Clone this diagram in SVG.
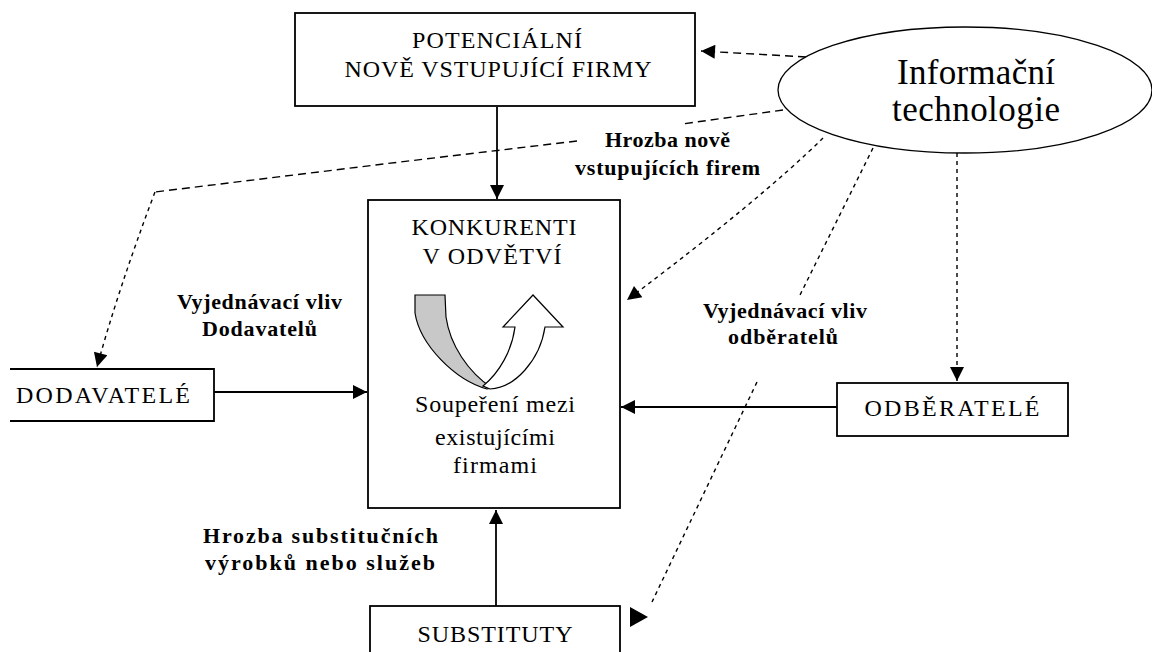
<svg xmlns="http://www.w3.org/2000/svg" width="1152" height="652" viewBox="0 0 1152 652">
<style>
.box{fill:#fff;stroke:#000;stroke-width:1.8}
.nt{font-family:"Liberation Serif","Times New Roman",serif;font-size:24px;fill:#000;text-anchor:middle}
.lb{font-family:"Liberation Serif","Times New Roman",serif;font-size:22px;font-weight:bold;fill:#000}
.it{font-family:"Liberation Serif","Times New Roman",serif;font-size:35px;fill:#000;text-anchor:middle}
.solid{fill:none;stroke:#000;stroke-width:1.8}
.dash{fill:none;stroke:#000;stroke-width:1.4;stroke-dasharray:8 5}
.dash2{fill:none;stroke:#000;stroke-width:1.4;stroke-dasharray:4 4}
</style>
<defs>
<marker id="ah" viewBox="0 0 10 10" refX="10" refY="5" markerUnits="userSpaceOnUse" markerWidth="17" markerHeight="14" orient="auto">
<path d="M0,0 L10,5 L0,10 z" fill="#000"/>
</marker>
</defs>
<rect width="1152" height="652" fill="#fff"/>

<g id="connectors">
<path class="solid" d="M497,107 V199" marker-end="url(#ah)"/>
<path class="solid" d="M214,392 H367" marker-end="url(#ah)"/>
<path class="solid" d="M837,407 H621" marker-end="url(#ah)"/>
<path class="solid" d="M496,606 V510" marker-end="url(#ah)"/>
<path class="dash" d="M806,57 L701,51" marker-end="url(#ah)"/>
<path class="dash" d="M783,110 L682,124"/>
<path class="dash" d="M577,141 L400,162 L155,192"/>
<path class="dash2" d="M155,192 Q118,290 97,367" marker-end="url(#ah)"/>
<path class="dash2" d="M823,138 Q760,200 627,300" marker-end="url(#ah)"/>
<path class="dash2" d="M873,148 L800,295"/>
<path class="dash2" d="M757,382 L652,602"/>
<polygon points="630,607 630,627 648,617" fill="#000"/>
<path class="dash2" d="M957,153 V381" marker-end="url(#ah)"/>
</g>

<g id="potencialni">
<rect class="box" x="295" y="13" width="400" height="93"/>
<text class="nt" x="497" y="48" textLength="170" lengthAdjust="spacing">POTENCIÁLNÍ</text>
<text class="nt" x="498" y="77" textLength="307" lengthAdjust="spacing">NOVĚ VSTUPUJÍCÍ FIRMY</text>
</g>

<g id="konkurenti">
<rect class="box" x="368" y="200" width="252" height="308"/>
<text class="nt" x="494" y="235" textLength="165" lengthAdjust="spacing">KONKURENTI</text>
<text class="nt" x="492" y="264" textLength="139" lengthAdjust="spacing">V ODVĚTVÍ</text>
<path d="M415,295 L445,295 L446,317 C450,345 468,372 492,388 L487,389 C455,380 420,345 415,313 Z" fill="#c8c8c8" stroke="#000" stroke-width="1.2"/>
<path d="M483,386 C500,372 512,350 515,327 L503,327 L533,295 L563,327 L545,327 C540,360 515,388 490,389 Z" fill="#fff" stroke="#000" stroke-width="1.2"/>
<text class="nt" x="495" y="412" textLength="160" lengthAdjust="spacing">Soupeření mezi</text>
<text class="nt" x="495" y="445" textLength="120" lengthAdjust="spacing">existujícími</text>
<text class="nt" x="495" y="473" textLength="84" lengthAdjust="spacing">firmami</text>
</g>

<g id="dodavatele">
<path class="box" d="M10,369 H214 V421 H10"/>
<text class="nt" x="103" y="403" textLength="174" lengthAdjust="spacing">DODAVATELÉ</text>
</g>

<g id="odberatele">
<rect class="box" x="837" y="383" width="231" height="53"/>
<text class="nt" x="952" y="416" textLength="175" lengthAdjust="spacing">ODBĚRATELÉ</text>
</g>

<g id="substituty">
<rect class="box" x="370" y="606" width="250" height="60"/>
<text class="nt" x="495" y="642" textLength="155" lengthAdjust="spacing">SUBSTITUTY</text>
</g>

<g id="informacni-technologie">
<ellipse cx="965" cy="90" rx="187" ry="63" fill="#fff" stroke="#000" stroke-width="1.3"/>
<text class="it" x="976" y="84" textLength="158" lengthAdjust="spacing">Informační</text>
<text class="it" x="976" y="121" textLength="168" lengthAdjust="spacing">technologie</text>
</g>

<g id="labels">
<text class="lb" x="605" y="147" textLength="125" lengthAdjust="spacing">Hrozba nově</text>
<text class="lb" x="575" y="175" textLength="185" lengthAdjust="spacing">vstupujících firem</text>
<text class="lb" x="177" y="309" textLength="165" lengthAdjust="spacing">Vyjednávací vliv</text>
<text class="lb" x="202" y="336" textLength="115" lengthAdjust="spacing">Dodavatelů</text>
<text class="lb" x="703" y="318" textLength="164" lengthAdjust="spacing">Vyjednávací vliv</text>
<text class="lb" x="728" y="344" textLength="110" lengthAdjust="spacing">odběratelů</text>
<text class="lb" x="203" y="543" textLength="235" lengthAdjust="spacing">Hrozba substitučních</text>
<text class="lb" x="205" y="570" textLength="230" lengthAdjust="spacing">výrobků nebo služeb</text>
</g>
</svg>
